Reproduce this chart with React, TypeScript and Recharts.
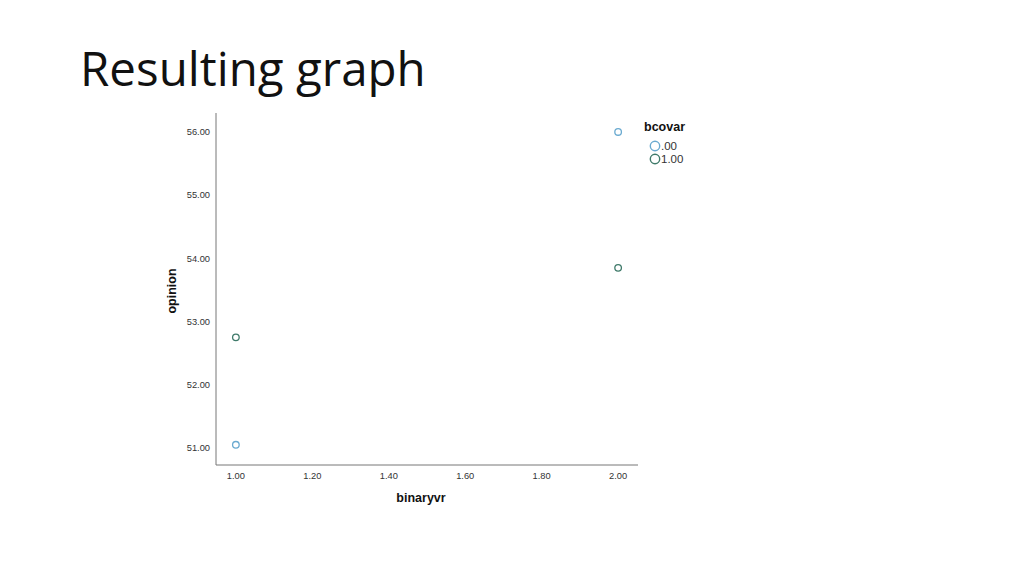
import React from "react";
import { ScatterChart, Scatter, XAxis, YAxis } from "recharts";

// bcovar groups
const groupNames = [".00", "1.00"];
const groupColors = ["#6aaad0", "#3f7a6a"];

const binaryvrZero = [1, 2];
const opinionZero = [51.05, 56.0];
const binaryvrOne = [1, 2];
const opinionOne = [52.75, 53.85];

const xTicks = [1, 1.2, 1.4, 1.6, 1.8, 2];
const yTicks = [51, 52, 53, 54, 55, 56];

const zeroData = binaryvrZero.map((x, i) => ({ x, y: opinionZero[i] }));
const oneData = binaryvrOne.map((x, i) => ({ x, y: opinionOne[i] }));

const ring = (color: string) => (props: any) =>
  (
    <circle
      cx={props.cx}
      cy={props.cy}
      r={3.3}
      fill="#fff"
      stroke={color}
      strokeWidth={1.3}
    />
  );

const LegendBox = () => (
  <div style={{ fontFamily: "Liberation Sans, Arial, sans-serif", color: "#111" }}>
    <div style={{ fontSize: 12.5, fontWeight: "bold", marginLeft: 1, lineHeight: "15px", marginBottom: 4 }}>bcovar</div>
    {groupNames.map((name, i) => (
      <div key={name} style={{ display: "flex", alignItems: "center", height: 13, marginLeft: 6 }}>
        <svg width={12} height={12}>
          <circle cx={6} cy={6} r={4.7} fill="#fff" stroke={groupColors[i]} strokeWidth={1.4} />
        </svg>
        <span style={{ fontSize: 11.5, color: "#333" }}>{name}</span>
      </div>
    ))}
  </div>
);

export default function App() {
  const tickStyle = { fontSize: 9.3, fill: "#333", fontFamily: "Liberation Sans, Arial, sans-serif" };
  return (
    <div style={{ position: "fixed", left: 0, top: 0, width: 1024, height: 575, background: "#fff" }}>
      <div
        style={{
          position: "absolute",
          left: 80,
          top: 36,
          fontFamily: "Open Sans, Noto Sans, sans-serif",
          fontSize: 47.5,
          lineHeight: "64px",
          color: "#111",
        }}
      >
        Resulting graph
      </div>
      <div style={{ position: "absolute", left: 0, top: 0 }}>
        <ScatterChart width={1024} height={575} margin={{ top: 113, right: 386, bottom: 80, left: 156 }}>
          <XAxis
            type="number"
            dataKey="x"
            domain={[0.948, 2.052]}
            ticks={xTicks}
            tickFormatter={(v: number) => v.toFixed(2)}
            tickLine={false}
            axisLine={{ stroke: "#777", strokeWidth: 1 }}
            tick={tickStyle}
            tickMargin={1}
            height={30}
            allowDataOverflow
          />
          <YAxis
            type="number"
            dataKey="y"
            domain={[50.73, 56.3]}
            ticks={yTicks}
            tickFormatter={(v: number) => v.toFixed(2)}
            tickLine={false}
            axisLine={{ stroke: "#777", strokeWidth: 1 }}
            tick={tickStyle}
            tickMargin={0}
            width={60}
            allowDataOverflow
          />
          <Scatter name={groupNames[0]} data={zeroData} shape={ring(groupColors[0])} isAnimationActive={false} />
          <Scatter name={groupNames[1]} data={oneData} shape={ring(groupColors[1])} isAnimationActive={false} />
        </ScatterChart>
      </div>
      <div style={{ position: "absolute", left: 643, top: 120, width: 80 }}>
        <LegendBox />
      </div>
      <div
        style={{
          position: "absolute",
          left: 172,
          top: 291,
          transform: "translate(-50%, -50%) rotate(-90deg)",
          fontFamily: "Liberation Sans, Arial, sans-serif",
          fontWeight: "bold",
          fontSize: 12.5,
          color: "#111",
        }}
      >
        opinion
      </div>
      <div
        style={{
          position: "absolute",
          left: 421,
          top: 498,
          transform: "translate(-50%, -50%)",
          fontFamily: "Liberation Sans, Arial, sans-serif",
          fontWeight: "bold",
          fontSize: 12.5,
          color: "#111",
        }}
      >
        binaryvr
      </div>
    </div>
  );
}
